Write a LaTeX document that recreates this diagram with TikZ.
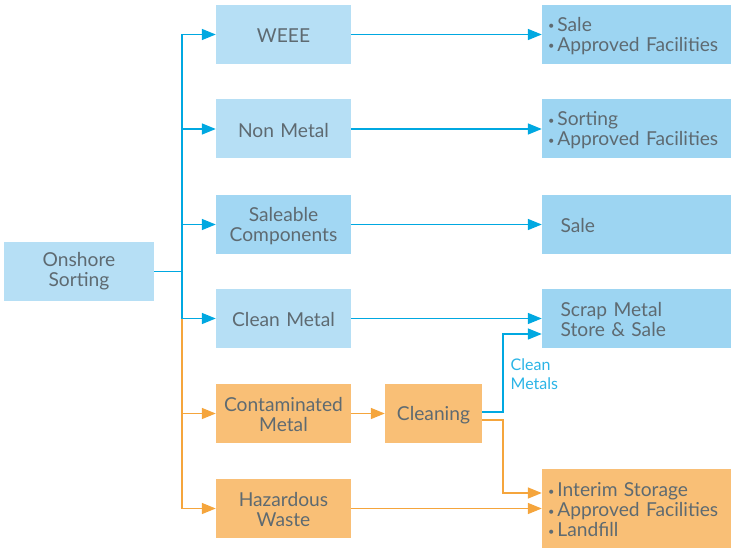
\documentclass[tikz,border=0pt]{standalone}
\usepackage{fontspec}
\setmainfont{Lato}
\usetikzlibrary{arrows.meta,calc}
\definecolor{boxlight}{HTML}{B6DFF5}
\definecolor{boxmid}{HTML}{A2D7F3}
\definecolor{boxright}{HTML}{9DD5F2}
\definecolor{boxorange}{HTML}{F9BF76}
\definecolor{txtgray}{HTML}{5E6A71}
\definecolor{lineblue}{HTML}{00A8E1}
\definecolor{lineorange}{HTML}{F5A53C}
\definecolor{lblblue}{HTML}{2AB4E6}
% small list bullet
\newcommand\listdot{\raisebox{1.5pt}{\fontsize{11}{11}\selectfont•}\hspace{3pt}}
\begin{document}
\begin{tikzpicture}[x=1pt,y=-1pt,
  every node/.style={font=\fontsize{19.2}{20}\selectfont, text=txtgray, inner sep=0pt, align=center},
  box/.style={minimum height=59pt, execute at begin node={\rule{0pt}{17pt}}},
  leftbox/.style={box, minimum width=135pt, text width=130pt},
  rightbox/.style={box, text width=177pt, inner xsep=6pt, align=left},
  rightboxwide/.style={box, text width=152pt, inner xsep=18.5pt, align=left},
  bflow/.style={draw=lineblue, line width=1.5pt},
  oflow/.style={draw=lineorange, line width=1.5pt},
  tip/.style={-{Triangle[length=14pt,width=11pt]}}
]
\useasboundingbox (0,0) rectangle (735,548);

% source
\node[box, fill=boxlight, minimum width=150pt] (onshore) at (79,271.5) {Onshore\\Sorting};

% sorted streams
\node[leftbox, fill=boxlight]  (weee)  at (283.5,34.5)  {WEEE};
\node[leftbox, fill=boxlight]  (nonm)  at (283.5,129)   {Non Metal};
\node[leftbox, fill=boxmid]    (sale)  at (283.5,224.5) {Saleable\\Components};
\node[leftbox, fill=boxlight]  (clean) at (283.5,318.5) {Clean Metal};
\node[leftbox, fill=boxorange] (cont)  at (283.5,413.5) {Contaminated\\Metal};
\node[leftbox, fill=boxorange] (haz)   at (283.5,508.5) {Hazardous\\Waste};
\node[box, fill=boxorange, minimum width=97pt] (cleaning) at (433.5,413.5) {Cleaning};

% destinations
\node[rightbox, fill=boxright] (dweee) at (636.5,34.5) {\listdot Sale\\\listdot Approved Facilities};
\node[rightbox, fill=boxright] (dnonm) at (636.5,129)  {\listdot Sorting\\\listdot Approved Facilities};
\node[rightboxwide, fill=boxright] (dsale) at (636.5,224.5) {Sale};
\node[rightboxwide, fill=boxright] (dscrap) at (636.5,318.5) {Scrap Metal\\Store \& Sale};
\node[rightbox, fill=boxorange, minimum height=79pt] (dint) at (636.5,508.5)
  {\listdot Interim Storage\\\listdot Approved Facilities\\\listdot Landfill};

\node[font=\fontsize{16}{19}\selectfont, text=lblblue, align=left, anchor=north west] (lbl) at (510.5,359) {Clean\\Metals};

% trunk from sorting
\coordinate (trunk) at (182,271.5);
\coordinate (bend) at (503,0);
\draw[bflow] (onshore.east) -- (trunk);
\draw[bflow] (trunk |- weee) -- (trunk |- clean);
\draw[oflow] (trunk |- clean) -- (trunk |- haz);
\foreach \n in {weee,nonm,sale,clean}
  \draw[bflow,tip] (trunk |- \n) -- (\n);
\foreach \n in {cont,haz}
  \draw[oflow,tip] (trunk |- \n) -- (\n);

% onward flows
\draw[bflow,tip] (weee) -- (dweee);
\draw[bflow,tip] (nonm) -- (dnonm);
\draw[bflow,tip] (sale) -- (dsale);
\draw[bflow,tip] (clean) -- (dscrap);
\draw[oflow,tip] (cont) -- (cleaning);
\draw[oflow,tip] (haz) -- (dint);

\coordinate (scrapin) at ([yshift=-15.5pt]dscrap.west);
\coordinate (intin) at ([yshift=15.5pt]dint.west);
\draw[bflow,tip] ([yshift=1.5pt]cleaning.east) -| (bend |- scrapin) -- (scrapin);
\draw[oflow,tip] ([yshift=-6.5pt]cleaning.east) -| (bend |- intin) -- (intin);
\end{tikzpicture}
\end{document}
